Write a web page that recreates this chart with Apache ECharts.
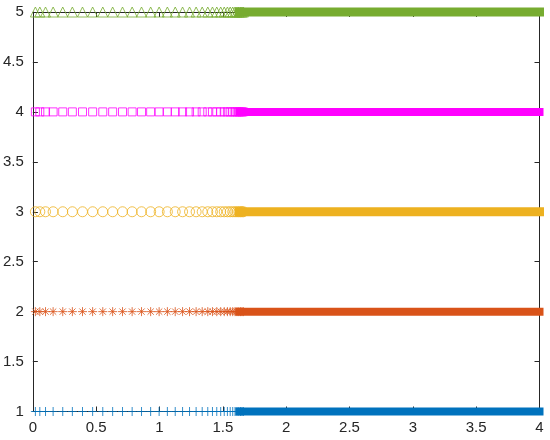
<!DOCTYPE html>
<html>
<head>
<meta charset="utf-8">
<script src="https://cdn.jsdelivr.net/npm/echarts@6/dist/echarts.min.js"></script>
<style>
  html, body { margin: 0; padding: 0; background: #fff; }
  #chart { width: 550px; height: 440px; }
</style>
</head>
<body>
<div id="chart"></div>
<script>
// x positions of the separate markers (shared by all five rows)
var xSparse = [0.02, 0.055, 0.1, 0.16, 0.236, 0.312, 0.392, 0.472, 0.552, 0.63,
  0.708, 0.784, 0.858, 0.93, 0.997, 1.062, 1.124, 1.182, 1.237, 1.289, 1.337,
  1.381, 1.418, 1.452, 1.483, 1.511, 1.536, 1.558, 1.578, 1.596, 1.612, 1.626,
  1.639, 1.651, 1.662];
// past this point the markers merge into a solid band
var xDense = [1.63, 4];

var rowValues = [1, 2, 3, 4, 5];
var rowColors = ['#0072BD', '#D95319', '#EDB120', '#FF00FF', '#77AC30'];
var rowSymbols = [
  'path://M0,-1L0,1M-1,0L1,0',
  'path://M0,-1L0,1M-1,0L1,0M-0.7,-0.7L0.7,0.7M-0.7,0.7L0.7,-0.7',
  'circle',
  'rect',
  'triangle'
];
var rowSizes = [9, 9, 10, 8, 10];
var bandWidths = [8, 8, 9, 8, 9];

var xTicks = [0, 0.5, 1, 1.5, 2, 2.5, 3, 3.5, 4];
var yTicks = [1, 1.5, 2, 2.5, 3, 3.5, 4, 4.5, 5];

var axisColor = '#262626';
var labelFont = { color: axisColor, fontSize: 15, fontFamily: 'Liberation Sans, Arial, sans-serif' };

var series = [];
rowValues.forEach(function (y, i) {
  series.push({
    type: 'scatter',
    data: xSparse.map(function (x) { return [x, y]; }),
    symbol: rowSymbols[i],
    symbolSize: rowSizes[i],
    itemStyle: { color: 'transparent', borderColor: rowColors[i], borderWidth: 1 },
    clip: false,
    silent: true
  });
  series.push({
    type: 'line',
    data: xDense.map(function (x) { return [x, y]; }),
    symbol: 'none',
    lineStyle: { color: rowColors[i], width: bandWidths[i], cap: 'square' },
    clip: false,
    silent: true
  });
});

// main axes carry line + labels; extra axes pulled 5px into the plot draw the inward ticks
function xAx(pos, labels, tickOnly) {
  return {
    type: 'value', position: pos, offset: tickOnly ? -5 : 0,
    min: xTicks[0], max: xTicks[xTicks.length - 1], interval: 0.5,
    axisLine: { show: !tickOnly, onZero: false, lineStyle: { color: axisColor } },
    axisTick: { show: tickOnly, length: 5, lineStyle: { color: axisColor } },
    axisLabel: labels ? Object.assign({ margin: 9 }, labelFont) : { show: false },
    splitLine: { show: false }
  };
}
function yAx(pos, labels, tickOnly) {
  return {
    type: 'value', position: pos, offset: tickOnly ? -5 : 0,
    min: yTicks[0], max: yTicks[yTicks.length - 1], interval: 0.5,
    axisLine: { show: !tickOnly, onZero: false, lineStyle: { color: axisColor } },
    axisTick: { show: tickOnly, length: 5, lineStyle: { color: axisColor } },
    axisLabel: labels ? Object.assign({ margin: 9 }, labelFont) : { show: false },
    splitLine: { show: false }
  };
}

var chart = echarts.init(document.getElementById('chart'));
chart.setOption({
  animation: false,
  grid: { left: 32, right: 10.5, top: 12, bottom: 28.5 },
  xAxis: [xAx('bottom', true, false), xAx('top', false, false), xAx('bottom', false, true), xAx('top', false, true)],
  yAxis: [yAx('left', true, false), yAx('right', false, false), yAx('left', false, true), yAx('right', false, true)],
  series: series
});
</script>
</body>
</html>
